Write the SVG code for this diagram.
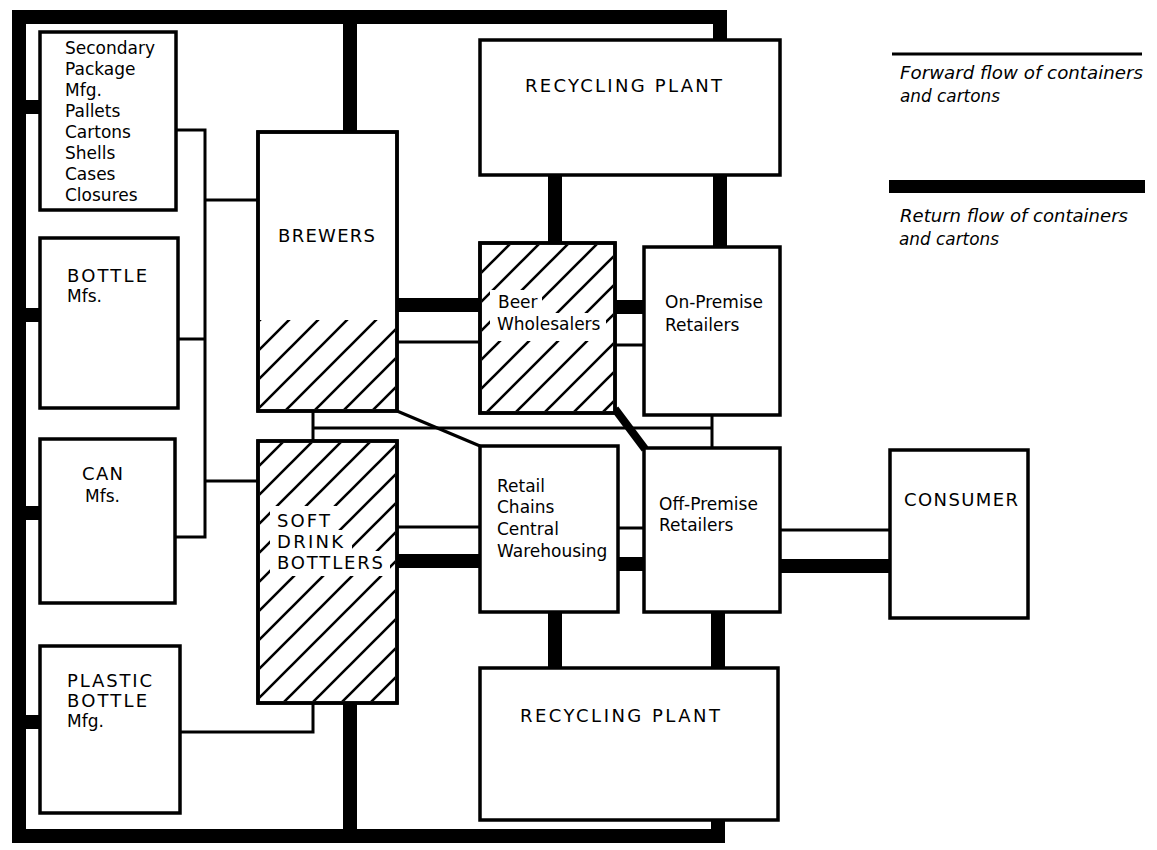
<svg xmlns="http://www.w3.org/2000/svg" width="1157" height="850" viewBox="0 0 1157 850">
<style>
.box{fill:#fff;stroke:#000;stroke-width:3.5}
.thin{fill:none;stroke:#000;stroke-width:3}
.thick{fill:none;stroke:#000;stroke-width:14}
.t{font-family:"DejaVu Sans","Liberation Sans",sans-serif;font-size:17px;fill:#000}
.u{font-size:18px}
.lg{font-family:"DejaVu Sans","Liberation Sans",sans-serif;font-size:17px;font-style:italic;fill:#000}
</style>
<defs>
<pattern id="hatch" patternUnits="userSpaceOnUse" width="29" height="29">
<path d="M-3,3 L3,-3 M0,29 L29,0 M26,32 L32,26" stroke="#000" stroke-width="2.6"/>
</pattern>
</defs>
<rect width="1157" height="850" fill="#fff"/>
<g id="connectors">
<path class="thick" d="M720,40 V17 H19 V836 H718 V820" stroke-linejoin="miter"/>
<path class="thick" d="M350,17 V132"/>
<path class="thick" d="M350,703 V836"/>
<path class="thick" d="M19,107 H40 M19,315 H40 M19,513 H40 M19,722 H40"/>
<path class="thin" d="M176,130 H205 V537 H175 M178,339 H205 M205,200 H260 M205,481 H258"/>
<path class="thin" d="M180,732 H313 V703"/>
<path class="thick" d="M397,305 H480 M615,307 H643"/>
<path class="thin" d="M397,342 H480 M615,345 H643"/>
<path class="thick" d="M555,175 V243 M720,175 V247"/>
<path class="thick" d="M555,612 V668 M718,612 V668"/>
<path class="thin" d="M313,411 V441 M313,428 H712 M712,415 V447"/>
<path class="thin" d="M397,411 L480,446"/>
<path d="M615,409 L645,449" stroke="#000" stroke-width="8" fill="none"/>
<path class="thin" d="M397,527 H480 M618,528 H643 M780,530 H890"/>
<path class="thick" d="M397,561 H480 M618,564 H643 M780,566 H890"/>
</g>
<g id="secondary">
<rect class="box" x="40" y="32" width="136" height="178"/>
<text class="t" x="65"><tspan x="65" y="54">Secondary</tspan><tspan x="65" y="75">Package</tspan><tspan x="65" y="96">Mfg.</tspan><tspan x="65" y="117">Pallets</tspan><tspan x="65" y="138">Cartons</tspan><tspan x="65" y="159">Shells</tspan><tspan x="65" y="180">Cases</tspan><tspan x="65" y="201">Closures</tspan></text>
</g>
<g id="bottle">
<rect class="box" x="40" y="238" width="138" height="170"/>
<text class="t u" x="67" y="282" textLength="80" lengthAdjust="spacing">BOTTLE</text>
<text class="t" x="67" y="302">Mfs.</text>
</g>
<g id="can">
<rect class="box" x="40" y="439" width="135" height="164"/>
<text class="t u" x="82" y="480" textLength="41" lengthAdjust="spacing">CAN</text>
<text class="t" x="85" y="502">Mfs.</text>
</g>
<g id="plastic">
<rect class="box" x="40" y="646" width="140" height="167"/>
<text class="t u" x="67" y="687" textLength="85" lengthAdjust="spacing">PLASTIC</text>
<text class="t u" x="67" y="707" textLength="80" lengthAdjust="spacing">BOTTLE</text>
<text class="t" x="67" y="727">Mfg.</text>
</g>
<g id="brewers">
<rect class="box" x="258" y="132" width="139" height="279"/>
<rect x="260" y="320" width="135" height="89" fill="url(#hatch)"/>
<rect x="258" y="132" width="139" height="279" fill="none" stroke="#000" stroke-width="3.5"/>
<text class="t u" x="278" y="242" textLength="97" lengthAdjust="spacing">BREWERS</text>
</g>
<g id="softdrink">
<rect class="box" x="258" y="441" width="139" height="262"/>
<path d="M260,443 H395 V701 H260 Z M270,506 H338 V530 H352 V551 H390 V576 H270 Z" fill="url(#hatch)" fill-rule="evenodd"/>
<rect x="258" y="441" width="139" height="262" fill="none" stroke="#000" stroke-width="3.5"/>
<text class="t u" x="277" y="527" textLength="53" lengthAdjust="spacing">SOFT</text>
<text class="t u" x="277" y="548" textLength="66" lengthAdjust="spacing">DRINK</text>
<text class="t u" x="277" y="569" textLength="106" lengthAdjust="spacing">BOTTLERS</text>
</g>
<g id="recycling-top">
<rect class="box" x="480" y="40" width="300" height="135"/>
<text class="t u" x="525" y="92" textLength="197" lengthAdjust="spacing">RECYCLING PLANT</text>
</g>
<g id="beer">
<rect class="box" x="480" y="243" width="135" height="170"/>
<path d="M482,245 H613 V411 H482 Z M490,290 H542 V313 H606 V341 H490 Z" fill="url(#hatch)" fill-rule="evenodd"/>
<rect x="480" y="243" width="135" height="170" fill="none" stroke="#000" stroke-width="3.5"/>
<text class="t" x="498" y="308">Beer</text>
<text class="t" x="497" y="330">Wholesalers</text>
</g>
<g id="onpremise">
<rect class="box" x="644" y="247" width="136" height="168"/>
<text class="t" x="665" y="308">On-Premise</text>
<text class="t" x="665" y="331">Retailers</text>
</g>
<g id="retail">
<rect class="box" x="480" y="446" width="138" height="166"/>
<text class="t" x="497"><tspan x="497" y="492">Retail</tspan><tspan x="497" y="513">Chains</tspan><tspan x="497" y="535">Central</tspan><tspan x="497" y="557">Warehousing</tspan></text>
</g>
<g id="offpremise">
<rect class="box" x="644" y="448" width="136" height="164"/>
<text class="t" x="659" y="510">Off-Premise</text>
<text class="t" x="659" y="531">Retailers</text>
</g>
<g id="consumer">
<rect class="box" x="890" y="450" width="138" height="168"/>
<text class="t u" x="904" y="506" textLength="114" lengthAdjust="spacing">CONSUMER</text>
</g>
<g id="recycling-bottom">
<rect class="box" x="480" y="668" width="298" height="152"/>
<text class="t u" x="520" y="722" textLength="200" lengthAdjust="spacing">RECYCLING PLANT</text>
</g>
<g id="legend">
<line x1="892" y1="54" x2="1142" y2="54" stroke="#000" stroke-width="3"/>
<text class="lg" x="900" y="79" textLength="243" lengthAdjust="spacingAndGlyphs">Forward flow of containers</text>
<text class="lg" x="900" y="102" textLength="100" lengthAdjust="spacingAndGlyphs">and cartons</text>
<rect x="889" y="180" width="256" height="13" fill="#000"/>
<text class="lg" x="900" y="222" textLength="228" lengthAdjust="spacingAndGlyphs">Return flow of containers</text>
<text class="lg" x="899" y="245" textLength="100" lengthAdjust="spacingAndGlyphs">and cartons</text>
</g>
</svg>
